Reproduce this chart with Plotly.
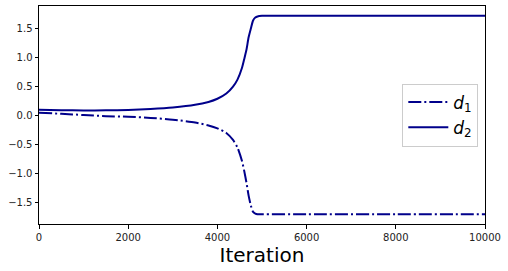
import plotly.graph_objects as go

iterations = [0, 500, 1000, 1500, 2000, 2500, 3000, 3500, 3800, 4000, 4200, 4350, 4450,
              4550, 4600, 4650, 4700, 4750, 4800, 4850, 4900, 5000, 6000, 8000, 10000]
d1 = [0.05, 0.03, 0.01, -0.01, -0.02, -0.04, -0.07, -0.12, -0.17, -0.22, -0.30, -0.42, -0.55,
      -0.78, -0.95, -1.15, -1.38, -1.55, -1.66, -1.69, -1.70, -1.70, -1.70, -1.70, -1.70]
d2 = [0.10, 0.093, 0.089, 0.09, 0.098, 0.115, 0.14, 0.185, 0.235, 0.29, 0.38, 0.50, 0.62,
      0.82, 0.97, 1.13, 1.35, 1.50, 1.64, 1.69, 1.71, 1.72, 1.72, 1.72, 1.72]

color = "#00008B"
fig = go.Figure()
fig.add_trace(go.Scatter(x=iterations, y=d1, mode="lines", name="<i>d</i><sub>1</sub>",
                         line=dict(color=color, width=2, dash="13px,3px,2px,3px", shape="spline", smoothing=0.6)))
fig.add_trace(go.Scatter(x=iterations, y=d2, mode="lines", name="<i>d</i><sub>2</sub>",
                         line=dict(color=color, width=2, shape="spline", smoothing=0.6)))

axis_common = dict(showgrid=False, zeroline=False, showline=True, linecolor="black", linewidth=1,
                   mirror=True, ticks="outside", ticklen=3.5, tickcolor="black", automargin=False,
                   tickfont=dict(family="DejaVu Sans", size=10, color="#222"))
fig.update_xaxes(range=[0, 10000], tickvals=[0, 2000, 4000, 6000, 8000, 10000], tickformat="d",
                 title=dict(text="Iteration", font=dict(family="DejaVu Sans", size=20, color="black"), standoff=4),
                 **axis_common)
fig.update_yaxes(range=[-1.87, 1.89], tickvals=[-1.5, -1.0, -0.5, 0.0, 0.5, 1.0, 1.5], tickformat=".1f",
                 **axis_common)
fig.update_layout(
    width=508, height=271, margin=dict(l=39, r=23, t=6, b=47),
    paper_bgcolor="white", plot_bgcolor="white", showlegend=True,
    legend=dict(x=0.985, y=0.5, xanchor="right", yanchor="middle", bgcolor="rgba(255,255,255,0.8)",
                bordercolor="#ccc", borderwidth=1, font=dict(family="DejaVu Sans", size=17, color="black"),
                itemwidth=40),
)
fig.write_html("out.html", config={"displayModeBar": False},
               post_script="document.body.style.margin='0';document.body.style.overflow='hidden';")
